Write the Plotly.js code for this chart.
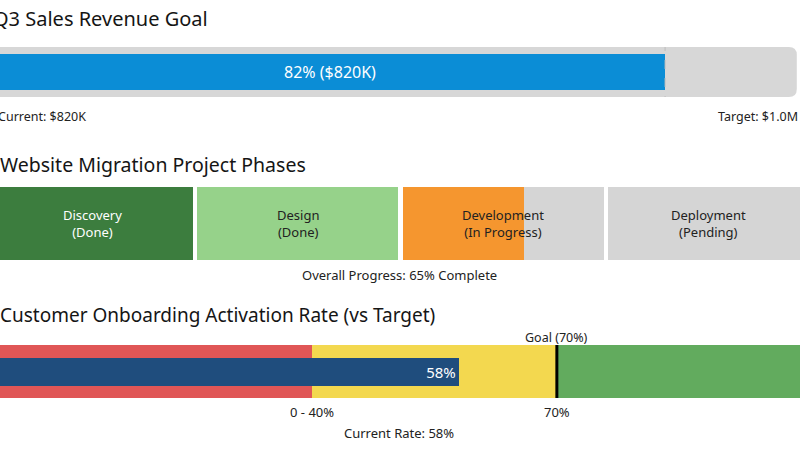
<!DOCTYPE html>
<html>
<head>
<meta charset="utf-8">
<script src="https://cdn.plot.ly/plotly-3.0.1.min.js"></script>
<style>
  html, body { margin: 0; padding: 0; background: #ffffff; overflow: hidden; }
  #chart { width: 800px; height: 450px; }
</style>
</head>
<body>
<div id="chart"></div>
<script>
// ---------------- DATA ----------------
const revenueCurrentK = 820;      // $K
const revenueTargetK = 1000;      // $K
const phaseNames = ['Discovery', 'Design', 'Development', 'Deployment'];
const phaseStatus = ['Done', 'Done', 'In Progress', 'Pending'];
const overallProgressPct = 65;
const bandStarts = [0, 40, 70];
const bandEnds = [40, 70, 100];
const bandTickLabels = ['0 - 40%', '70%'];
const currentRatePct = 58;
const goalRatePct = 70;

// ---------------- STYLE ----------------
const FONT = '"Noto Sans", "Open Sans", sans-serif';
const phaseColors = ['#3c7d3e', '#96d28a', '#d5d5d5', '#d5d5d5'];
const phaseTextColors = ['#ffffff', '#222222', '#222222', '#222222'];
const bandColors = ['#e05656', '#f3d84f', '#62ab5e'];

// ---------------- TRACES ----------------
const traces = [];

// Section 1: revenue progress
const pct = Math.round(revenueCurrentK / revenueTargetK * 100);
traces.push({
  type: 'bar', orientation: 'h', xaxis: 'x', yaxis: 'y',
  y: [0.5], x: [revenueCurrentK], base: [0], width: [0.72],
  marker: { color: '#0b8dd6', line: { width: 0 } },
  text: [pct + '% ($' + revenueCurrentK + 'K)'],
  textposition: 'inside', insidetextanchor: 'middle',
  textfont: { color: '#ffffff', size: 16, family: FONT },
  hoverinfo: 'skip', showlegend: false
});
traces.push({
  type: 'scatter', mode: 'lines', xaxis: 'x', yaxis: 'y',
  x: [revenueCurrentK, revenueCurrentK], y: [-0.16, 1.14],
  line: { color: '#bdbdbd', width: 1, dash: 'dash' },
  hoverinfo: 'skip', showlegend: false
});

// Section 2: phases
const gap = 0.02;
phaseNames.forEach((p, i) => {
  traces.push({
    type: 'bar', orientation: 'h', xaxis: 'x2', yaxis: 'y2',
    y: [0.5], x: [1 - gap], base: [i + gap / 2], width: [1],
    marker: { color: phaseColors[i], line: { width: 0 } },
    hoverinfo: 'skip', showlegend: false
  });
});
const inProgIdx = phaseStatus.indexOf('In Progress');
const progUnits = overallProgressPct / 100 * phaseNames.length;
traces.push({
  type: 'bar', orientation: 'h', xaxis: 'x2', yaxis: 'y2',
  y: [0.5], x: [progUnits - inProgIdx - gap / 2], base: [inProgIdx + gap / 2], width: [1],
  marker: { color: '#f5962f', line: { width: 0 } },
  hoverinfo: 'skip', showlegend: false
});

// Section 3: bullet
bandStarts.forEach((s, i) => {
  traces.push({
    type: 'bar', orientation: 'h', xaxis: 'x3', yaxis: 'y3',
    y: [0.5], x: [bandEnds[i] - s], base: [s], width: [1],
    marker: { color: bandColors[i], line: { width: 0 } },
    hoverinfo: 'skip', showlegend: false
  });
});
traces.push({
  type: 'bar', orientation: 'h', xaxis: 'x3', yaxis: 'y3',
  y: [0.49], x: [currentRatePct], base: [0], width: [0.53],
  marker: { color: '#1f4d7d', line: { width: 0 } },
  text: [currentRatePct + '%'],
  textposition: 'inside', insidetextanchor: 'end',
  textfont: { color: '#ffffff', size: 15, family: FONT },
  hoverinfo: 'skip', showlegend: false
});
traces.push({
  type: 'scatter', mode: 'lines', xaxis: 'x3', yaxis: 'y3',
  x: [goalRatePct, goalRatePct], y: [0, 1],
  line: { color: '#000000', width: 3 },
  hoverinfo: 'skip', showlegend: false
});

// ---------------- LAYOUT ----------------
function py(px) { return 1 - px / 450; }
function px(x) { return x / 800; }
const hidden = { visible: false, showgrid: false, zeroline: false, fixedrange: true };

const annotations = [];
function txt(t, x, y, opts) {
  annotations.push(Object.assign({
    text: t, x: x, y: y, xref: 'paper', yref: 'paper',
    xanchor: 'left', yanchor: 'middle', showarrow: false,
    font: { family: FONT, size: 13, color: '#222222' }
  }, opts || {}));
}
// titles
txt('Q3 Sales Revenue Goal', px(-9), py(18), { font: { family: FONT, size: 20, color: '#151515' } });
txt('Website Migration Project Phases', px(-2), py(164), { font: { family: FONT, size: 19.5, color: '#151515' } });
txt('Customer Onboarding Activation Rate (vs Target)', px(-2), py(315), { font: { family: FONT, size: 19, color: '#151515' } });
// section 1 labels
txt('Current: $' + revenueCurrentK + 'K', px(-4), py(116), { font: { family: FONT, size: 12.5, color: '#222222' } });
txt('Target: $' + (revenueTargetK / 1000).toFixed(1) + 'M', px(800), py(116), { xanchor: 'right', font: { family: FONT, size: 12.5, color: '#222222' } });
// phase labels
phaseNames.forEach((p, i) => {
  annotations.push({
    text: p + '<br>(' + phaseStatus[i] + ')', x: i + 0.5, y: 0.5, xref: 'x2', yref: 'y2',
    xanchor: 'center', yanchor: 'middle', showarrow: false,
    font: { family: FONT, size: 13, color: phaseTextColors[i] }
  });
});
txt('Overall Progress: ' + overallProgressPct + '% Complete', px(399), py(275), { xanchor: 'center' });
// bullet labels
annotations.push({
  text: 'Goal (' + goalRatePct + '%)', x: goalRatePct, y: py(337), xref: 'x3', yref: 'paper',
  xanchor: 'center', yanchor: 'middle', showarrow: false,
  font: { family: FONT, size: 12.5, color: '#222222' }
});
[bandEnds[0], goalRatePct].forEach((v, i) => {
  annotations.push({
    text: bandTickLabels[i], x: v, y: py(412), xref: 'x3', yref: 'paper',
    xanchor: 'center', yanchor: 'middle', showarrow: false,
    font: { family: FONT, size: 13, color: '#222222' }
  });
});
txt('Current Rate: ' + currentRatePct + '%', px(399), py(433), { xanchor: 'center' });

const layout = {
  width: 800, height: 450,
  margin: { l: 0, r: 0, t: 0, b: 0, pad: 0 },
  paper_bgcolor: '#ffffff', plot_bgcolor: 'rgba(0,0,0,0)',
  barmode: 'overlay', bargap: 0,
  showlegend: false,
  xaxis: Object.assign({}, hidden, { domain: [0, 1], range: [6.1, 985.1], anchor: 'y' }),
  yaxis: Object.assign({}, hidden, { domain: [py(97), py(47)], range: [0, 1], anchor: 'x' }),
  xaxis2: Object.assign({}, hidden, { domain: [0, 1], range: [0.051, 3.944], anchor: 'y2' }),
  yaxis2: Object.assign({}, hidden, { domain: [py(260), py(187)], range: [0, 1], anchor: 'x2' }),
  xaxis3: Object.assign({}, hidden, { domain: [0, 1], range: [1.84, 99.76], anchor: 'y3' }),
  yaxis3: Object.assign({}, hidden, { domain: [py(398), py(345)], range: [0, 1], anchor: 'x3' }),
  shapes: [{
    type: 'path', xref: 'paper', yref: 'y', layer: 'below',
    path: 'M -0.03,0 L 0.986,0 Q 0.996,0 0.996,0.16 L 0.996,0.84 Q 0.996,1 0.986,1 L -0.03,1 Z',
    fillcolor: '#d7d7d7', line: { width: 0 }
  }],
  annotations: annotations
};

Plotly.newPlot('chart', traces, layout, { staticPlot: true, displayModeBar: false });
</script>
</body>
</html>
